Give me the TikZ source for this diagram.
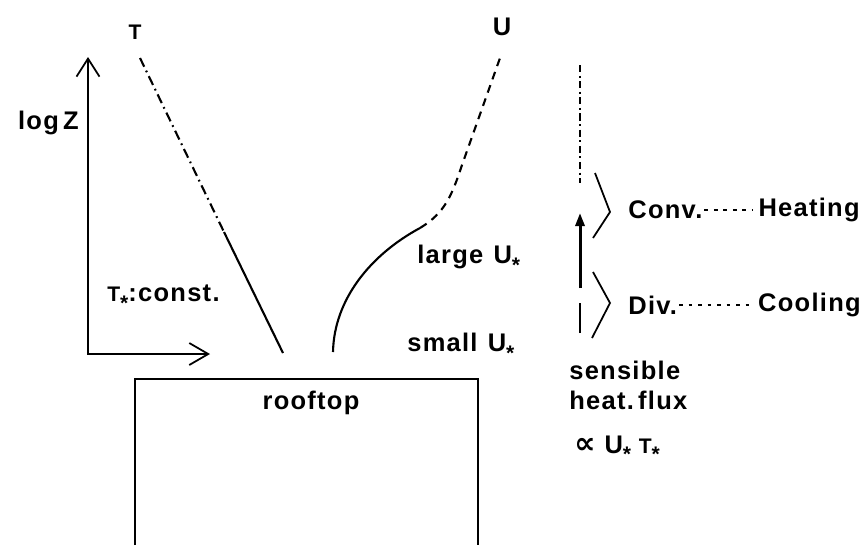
\documentclass[tikz,border=0pt]{standalone}
\usepackage{fontspec}
\setmainfont{Liberation Sans}[LetterSpace=5]
\newfontfamily\symfont{DejaVu Sans}
\usetikzlibrary{arrows.meta,positioning,calc}
\newcommand{\Tsm}{{\fontsize{12}{12}\selectfont T}}
\newcommand{\ustar}{\raisebox{-5pt}{\fontsize{12}{12}\selectfont *}}

\begin{document}
\begin{tikzpicture}[x=0.02cm,y=-0.02cm,
  lbl/.style={font=\fontsize{14.5}{17}\selectfont\bfseries,inner sep=0pt},
  prof/.style={line width=1.2pt},
  axis/.style={line width=1pt,{Straight Barb[length=3.6mm,width=4.6mm]}-{Straight Barb[length=3.8mm,width=4.4mm]}},
  dashdot/.style={prof,dash pattern=on 5.5pt off 2.5pt on 1pt off 2.5pt},
  udash/.style={prof,dash pattern=on 4.5pt off 3.5pt},
  coldash/.style={line width=1.1pt,dash pattern=on 4pt off 2pt on 1.2pt off 2pt},
  fluxarr/.style={line width=1.7pt,-{Triangle[length=2.6mm,width=1.8mm]}},
  dotline/.style={line width=0.9pt,dash pattern=on 2.2pt off 3.2pt},
  brace/.style={line width=1pt}]
\useasboundingbox (0,0) rectangle (864,545);

% axes and profiles
\coordinate (origin) at (88,354);
\coordinate (ztop) at (88,57);
\coordinate (xend) at (210,354);
\draw[axis] (ztop) -- (origin) -- (xend);
\node[lbl,anchor=east] (logz) at (79,123) {log\,Z};

\coordinate (tTop) at (140,58);
\coordinate (tKnee) at (224,232);
\coordinate (tBot) at (283,353);
\draw[dashdot] (tTop) -- (tKnee);
\draw[prof] (tKnee) -- (tBot);
\node[lbl] (tlab) at (135,32) {\Tsm};

\coordinate (uBot) at (333,352);
\coordinate (uKnee) at (420,228);
\coordinate (uTop) at (500,58);
\draw[prof] (uBot) .. controls (334,300) and (370,255) .. (uKnee);
\draw[udash] (uKnee) .. controls (445,213) and (452,195) .. (462,165) -- (uTop);
\node[lbl] (ulab) at (502,27) {U};

\node[lbl,anchor=west] (tconst) at (107,298) {\Tsm\ustar:const.};
\node[lbl,anchor=west] (large) at (417,259) {large\hspace{0.4em}U\ustar};
\node[lbl,anchor=west] (small) at (407,347) {small\hspace{0.4em}U\ustar};

% rooftop
\draw[prof] (135,545) -- (135,379) -- (478,379) -- (478,545);
\node[lbl] (roof) at (311,403) {rooftop};

% flux column
\coordinate (colTop) at (580,65);
\coordinate (colMid) at (580,183);
\coordinate (arrTail) at (580,288);
\coordinate (arrTip) at (580,213);
\coordinate (lowTop) at (580,303);
\coordinate (lowBot) at (580,333);
\draw[coldash] (colTop) -- (colMid);
\draw[fluxarr] (arrTail) -- (arrTip);
\draw[line width=1.1pt] (lowBot) -- (lowTop);
\draw[brace] (595,173) -- (610,212) -- (593,238);
\draw[brace] (593,272) -- (610,303) -- (592,338);

\node[lbl,anchor=west] (conv) at (628,210) {Conv.};
\node[lbl,anchor=east] (heat) at (860,210) {Heating};
\node[lbl,anchor=west] (div) at (628,305) {Div.};
\node[lbl,anchor=east] (cool) at (861,305) {Cooling};
\draw[dotline] ([xshift=1pt]conv.east) -- ([xshift=-3pt]heat.west);
\draw[dotline] ([xshift=1pt]div.east) -- ([xshift=-4pt]cool.west);

\node[lbl,anchor=north west,align=left] (flux) at (569,361) {sensible\\heat.\,flux};
\node[lbl,below=5mm of flux.south west,anchor=north west,xshift=1mm] (prop) {{\symfont\fontsize{17}{17}\selectfont ∝}\hspace{0.35em}U\ustar\hspace{0.3em}\Tsm\ustar};
\end{tikzpicture}
\end{document}
